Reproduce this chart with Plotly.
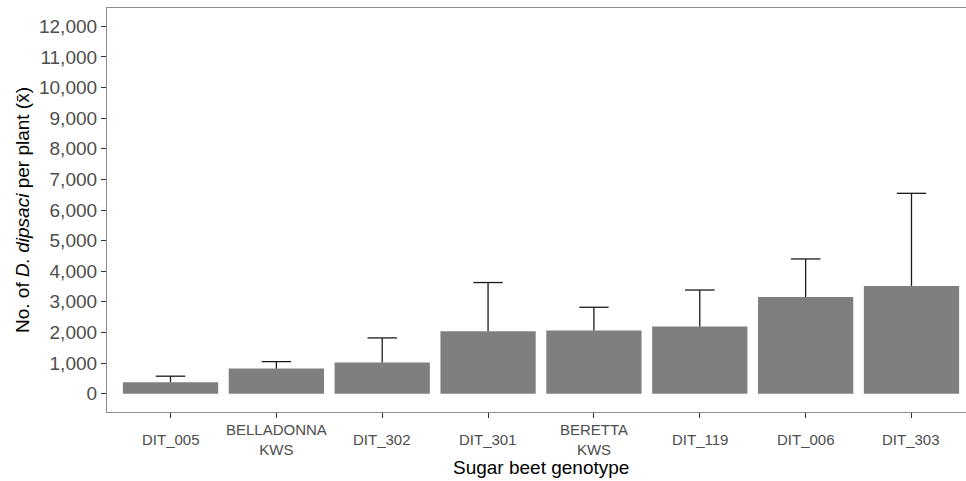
import plotly.graph_objects as go

categories = ["DIT_005", "BELLADONNA<br>KWS", "DIT_302", "DIT_301", "BERETTA<br>KWS", "DIT_119", "DIT_006", "DIT_303"]
means = [375, 820, 1020, 2035, 2065, 2190, 3160, 3520]
err_plus = [195, 226, 800, 1595, 757, 1195, 1240, 3025]
y_ticks = list(range(0, 12001, 1000))

# the original panel runs slightly past the right edge of the 966px window
W, H = 975, 481
ml, mr, mt, mb = 107, 0, 8, 69
FONT = "Liberation Sans, Arial"
ERR_COLOR = "#1a1a1a"

xs = list(range(len(categories)))
tops = [m + e for m, e in zip(means, err_plus)]

fig = go.Figure()
fig.add_trace(go.Bar(
    x=xs, y=means, width=0.9,
    marker=dict(color="#7f7f7f", line=dict(width=0)),
    showlegend=False, hoverinfo="y",
))

# upper error bars: stem from the mean to mean + error
stem_x, stem_y = [], []
for x, m, t in zip(xs, means, tops):
    stem_x += [x, x, None]
    stem_y += [m, t, None]
fig.add_trace(go.Scatter(
    x=stem_x, y=stem_y, mode="lines",
    line=dict(color=ERR_COLOR, width=1.3),
    showlegend=False, hoverinfo="skip",
))
# caps
fig.add_trace(go.Scatter(
    x=xs, y=tops, mode="markers",
    marker=dict(symbol="line-ew", size=21, color=ERR_COLOR,
                line=dict(color=ERR_COLOR, width=1.3)),
    showlegend=False, hoverinfo="skip",
))

# category labels via the x axis scale (vertically centred like the original)
for x, c in zip(xs, categories):
    fig.add_annotation(x=x, xref="x", y=0, yref="paper", yanchor="middle",
                       yshift=-(439 - (H - mb)), text=c, showarrow=False,
                       font=dict(family=FONT, size=15, color="#4d4d4d"),
                       align="center")

fig.add_annotation(x=0.5, xref="paper", y=0, yref="paper",
                   yanchor="middle", yshift=-(467 - (H - mb)),
                   text="Sugar beet genotype", showarrow=False,
                   font=dict(family=FONT, size=19, color="#000000"))

fig.update_layout(
    width=W, height=H,
    margin=dict(l=ml, r=mr, t=mt, b=mb, autoexpand=False),
    paper_bgcolor="white", plot_bgcolor="white",
    xaxis=dict(
        range=[-0.6, 7.6],
        tickvals=xs,
        showticklabels=False,
        ticks="outside", ticklen=5, tickcolor="#333333", tickwidth=1,
        showline=True, linecolor="#8c8c8c", linewidth=1.2, mirror=True,
        showgrid=False, zeroline=False, automargin=False,
    ),
    yaxis=dict(
        range=[-600, 12600],
        tickvals=y_ticks,
        tickformat=",d",
        ticks="outside", ticklen=5, tickcolor="#333333", tickwidth=1,
        tickfont=dict(family=FONT, size=19, color="#4d4d4d"),
        showline=True, linecolor="#8c8c8c", linewidth=1.2,
        showgrid=False, zeroline=False, automargin=False,
        title=dict(text="No. of <i>D. dipsaci</i> per plant (x\u0304)",
                   font=dict(family=FONT, size=19, color="#000000"),
                   standoff=4),
    ),
)

fig.write_html("out.html", config={"displayModeBar": False},
               post_script="document.documentElement.style.overflow='hidden';document.body.style.margin='0';document.body.style.overflow='hidden';")
